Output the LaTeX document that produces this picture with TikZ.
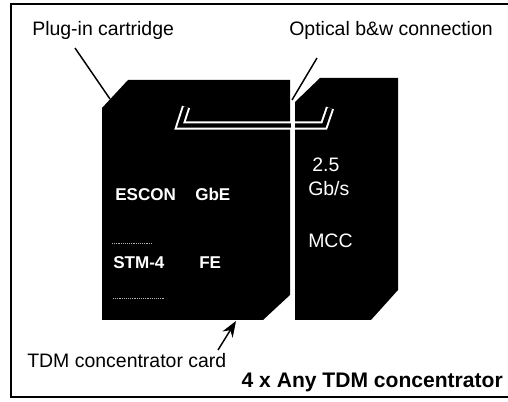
\documentclass[tikz,border=0pt]{standalone}
\usepackage{fontspec}
\setmainfont{Liberation Sans}
\usetikzlibrary{arrows.meta}
\begin{document}
\begin{tikzpicture}[x=0.75pt, y=-0.75pt,
  lbl/.style={font=\fontsize{14.6}{16}\selectfont, inner sep=0pt},
  cardtxt/.style={font=\bfseries\fontsize{12.8}{14}\selectfont, text=white, inner sep=0pt, anchor=base west},
  mcctxt/.style={font=\fontsize{14.6}{16}\selectfont, text=white, inner sep=0pt, anchor=base west},
  leader/.style={line width=1.1pt},
  card/.style={fill=black}]
\useasboundingbox (0,0) rectangle (508,402);
\draw[line width=1.1pt] (508,4) -- (11,4) -- (11,397) -- (508,397);
% cartridge and MCC card
\fill[card] (102,108) -- (128,80) -- (290,80) -- (290,295) -- (263,320) -- (102,320) -- cycle;
\fill[card] (295,102) -- (320,78) -- (398,78) -- (398,290) -- (371,320) -- (295,320) -- cycle;
% optical link
\draw[white, line width=1.5pt, double=black, double distance=3.3pt] (186,107) -- (180,125.5) -- (324,125.5) -- (330,108);
\fill[white] (290.5,98) rectangle (294.5,322);
\draw[gray!60, densely dotted] (112,243) -- (152,243);
\draw[gray!60, densely dotted] (113,298) -- (165,298);
% card texts
\node[cardtxt] (escon) at (115,201) {ESCON};
\node[cardtxt] (gbe) at (195,201) {GbE};
\node[cardtxt] (stm) at (113,269) {STM-4};
\node[cardtxt] (fe) at (199,269) {FE};
\node[mcctxt] (rate) at (312,172) {2.5};
\node[mcctxt] (unit) at (308,196) {Gb/s};
\node[mcctxt] (mcc) at (308,248) {MCC};
% labels
\node[lbl, anchor=base west] (plugin) at (32,36) {Plug-in cartridge};
\node[lbl, anchor=base east] (optical) at (493,36) {Optical b\&w connection};
\node[lbl, anchor=base west] (tdm) at (27,368) {TDM concentrator card};
\node[font=\bfseries\fontsize{15.8}{18}\selectfont, inner sep=0pt, anchor=base east] (title) at (503,388) {4 x Any TDM concentrator};
\coordinate (plugfoot) at (75,48);
\coordinate (plugtip) at (110,99);
\coordinate (optfoot) at (317,58);
\coordinate (opttip) at (292,100);
\coordinate (tdmfoot) at (218,350);
\coordinate (tdmtip) at (236,321);
\draw[leader] (plugfoot) -- (plugtip);
\draw[leader] (optfoot) -- (opttip);
\draw[leader, -{Stealth[length=12pt, width=9pt]}] (tdmfoot) -- (tdmtip);
\end{tikzpicture}
\end{document}
